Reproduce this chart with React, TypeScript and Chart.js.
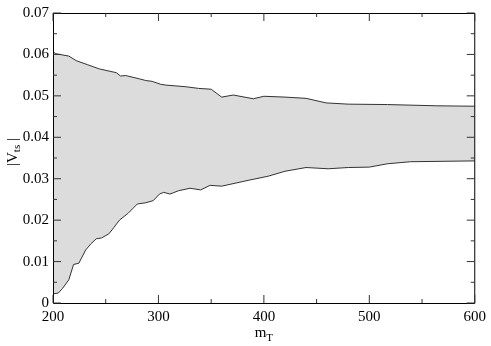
import React, { useEffect, useRef } from "react";
import { Chart, registerables } from "chart.js";

Chart.register(...registerables);

// Upper boundary of the allowed |V_ts| band
const upperMT = [200, 202, 215, 222, 233, 244, 260, 264, 269, 282, 288, 294, 302, 307, 326, 338, 350, 360, 371, 390, 400, 420, 440, 459, 480, 517, 564, 600];
const upperVts = [0.0608, 0.0602, 0.0596, 0.0585, 0.0575, 0.0565, 0.0556, 0.0548, 0.0549, 0.0541, 0.0537, 0.0535, 0.0528, 0.0526, 0.0522, 0.0518, 0.0516, 0.0497, 0.0502, 0.0493, 0.0499, 0.0497, 0.0494, 0.0483, 0.048, 0.0479, 0.0476, 0.0475];

// Lower boundary
const lowerMT = [200, 205, 209, 215, 219.5, 224.5, 231, 236, 241, 246, 253, 258, 263, 271, 280, 288, 295, 301, 305, 311, 319, 330, 340, 349, 360, 385, 404, 420, 440, 461, 480, 500, 517, 539, 600];
const lowerVts = [0.0022, 0.0024, 0.0035, 0.0056, 0.0093, 0.0096, 0.0128, 0.0143, 0.0155, 0.0157, 0.0167, 0.0183, 0.02, 0.0216, 0.0239, 0.0242, 0.0247, 0.0263, 0.0267, 0.0263, 0.0271, 0.0277, 0.0273, 0.0284, 0.0282, 0.0296, 0.0306, 0.0318, 0.0327, 0.0324, 0.0327, 0.0328, 0.0336, 0.0341, 0.0343];

const xTicks = [200, 300, 400, 500, 600];
const xMinorTicks = [250, 350, 450, 550];
const yTicks = [0, 0.01, 0.02, 0.03, 0.04, 0.05, 0.06, 0.07];
const yTickLabels = ["0", "0.01", "0.02", "0.03", "0.04", "0.05", "0.06", "0.07"];
const yMinorTicks = [0.005, 0.015, 0.025, 0.035, 0.045, 0.055, 0.065];

const FONT = "'Liberation Serif', 'Times New Roman', 'DejaVu Serif', serif";

const framePlugin = {
  id: "frameTicks",
  afterDraw(chart: any) {
    const { ctx, chartArea: a, scales } = chart;
    const xs = scales.x;
    const ys = scales.y;
    ctx.save();
    ctx.strokeStyle = "#000";
    ctx.lineWidth = 1;
    ctx.beginPath();
    ctx.moveTo(a.left + 0.5, a.top + 0.5);
    ctx.lineTo(a.right, a.top + 0.5);
    ctx.lineTo(a.right, a.bottom + 0.5);
    ctx.lineTo(a.left + 0.5, a.bottom + 0.5);
    ctx.closePath();
    ctx.stroke();

    ctx.strokeStyle = "#333";
    const drawX = (vals: number[], len: number) => {
      vals.forEach((v) => {
        const p = xs.getPixelForValue(v);
        ctx.beginPath();
        ctx.moveTo(p, a.bottom);
        ctx.lineTo(p, a.bottom - len);
        ctx.moveTo(p, a.top);
        ctx.lineTo(p, a.top + len);
        ctx.stroke();
      });
    };
    const drawY = (vals: number[], len: number) => {
      vals.forEach((v) => {
        const p = ys.getPixelForValue(v);
        ctx.beginPath();
        ctx.moveTo(a.left, p);
        ctx.lineTo(a.left + len, p);
        ctx.moveTo(a.right, p);
        ctx.lineTo(a.right - len, p);
        ctx.stroke();
      });
    };
    drawX(xTicks, 8);
    drawX(xMinorTicks, 4);
    drawY(yTicks, 8);
    drawY(yMinorTicks, 4);

    // axis titles with subscripts
    ctx.fillStyle = "#000";
    ctx.textBaseline = "alphabetic";
    ctx.textAlign = "left";
    const big = `15px ${FONT}`;
    const small = `11px ${FONT}`;

    // x title: m_T
    ctx.font = big;
    const wm = ctx.measureText("m").width;
    ctx.font = small;
    const wT = ctx.measureText("T").width;
    const cx = (a.left + a.right) / 2;
    const x0 = cx - (wm + wT) / 2;
    const base = 337;
    ctx.font = big;
    ctx.fillText("m", x0, base);
    ctx.font = small;
    ctx.fillText("T", x0 + wm, base + 4);

    // y title: |V_ts|
    ctx.save();
    const cy = 152;
    ctx.translate(17, cy);
    ctx.rotate(-Math.PI / 2);
    ctx.font = big;
    const w1 = ctx.measureText("|V").width;
    const w3 = ctx.measureText(" |").width;
    ctx.font = small;
    const w2 = ctx.measureText("ts").width;
    const sx = -(w1 + w2 + w3) / 2;
    ctx.font = big;
    ctx.fillText("|V", sx, 0);
    ctx.font = small;
    ctx.fillText("ts", sx + w1, 3);
    ctx.font = big;
    ctx.fillText(" |", sx + w1 + w2, 0);
    ctx.restore();

    ctx.restore();
  },
};

export default function App() {
  const ref = useRef<HTMLCanvasElement | null>(null);

  useEffect(() => {
    if (!ref.current) return;
    let chart: Chart | null = null;
    let cancelled = false;
    const build = () => {
      if (cancelled || !ref.current) return;
      chart = new Chart(ref.current, {
        type: "line",
        data: {
          datasets: [
            {
              label: "upper",
              data: upperMT.map((x, i) => ({ x, y: upperVts[i] })),
              borderColor: "#333",
              borderWidth: 1,
              pointRadius: 0,
              fill: false,
              tension: 0,
            },
            {
              label: "lower",
              data: lowerMT.map((x, i) => ({ x, y: lowerVts[i] })),
              borderColor: "#333",
              borderWidth: 1,
              pointRadius: 0,
              fill: "-1",
              backgroundColor: "rgb(220,220,220)",
              tension: 0,
            },
          ],
        },
        options: {
          animation: false,
          responsive: true,
          maintainAspectRatio: false,
          layout: { padding: { left: 0, right: 13, top: 6, bottom: 0 } },
          plugins: {
            legend: { display: false },
            tooltip: { enabled: false },
          },
          scales: {
            x: {
              type: "linear",
              min: 200,
              max: 600,
              grid: { display: false, drawTicks: false },
              border: { display: false },
              afterBuildTicks: (s: any) => {
                s.ticks = xTicks.map((v) => ({ value: v }));
              },
              afterFit: (s: any) => {
                s.height = 43;
              },
              ticks: {
                padding: 5,
                color: "#000",
                font: { family: FONT, size: 15 },
                maxRotation: 0,
                callback: (v: any) => String(v),
              },
            },
            y: {
              type: "linear",
              min: 0,
              max: 0.07,
              grid: { display: false, drawTicks: false },
              border: { display: false },
              afterBuildTicks: (s: any) => {
                s.ticks = yTicks.map((v) => ({ value: v }));
              },
              afterFit: (s: any) => {
                s.width = 53;
              },
              ticks: {
                padding: 4,
                color: "#000",
                font: { family: FONT, size: 15 },
                callback: (_v: any, i: number) => yTickLabels[i],
              },
            },
          },
        },
        plugins: [framePlugin],
      });
    };
    const fontsApi = (document as any).fonts;
    if (fontsApi && fontsApi.load) {
      Promise.all([
        fontsApi.load("15px 'Liberation Serif'"),
        fontsApi.load("11px 'Liberation Serif'"),
      ])
        .catch(() => null)
        .then(build);
    } else {
      build();
    }
    return () => {
      cancelled = true;
      if (chart) chart.destroy();
    };
  }, []);

  return (
    <div style={{ position: "absolute", left: 0, top: 0, width: 491, height: 346, background: "#fff" }}>
      <canvas ref={ref} />
    </div>
  );
}
